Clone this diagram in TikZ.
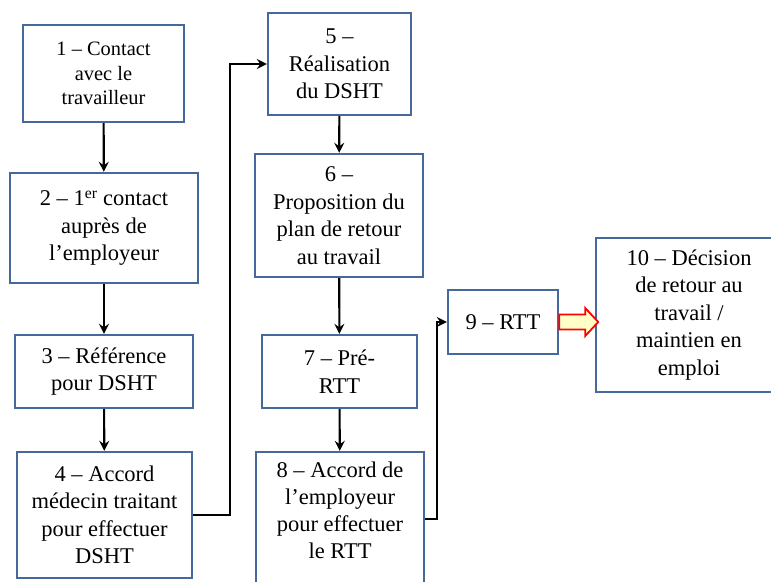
\documentclass[tikz,border=0pt]{standalone}
\usepackage{fontspec}
\setmainfont{Liberation Serif}
\usetikzlibrary{arrows.meta}
\definecolor{boxblue}{RGB}{70,105,155}
\definecolor{lightyel}{RGB}{255,255,200}
\tikzset{
  stepbox/.style={draw=boxblue, line width=2.4pt, fill=white, align=center, inner sep=0pt,
    font=\fontsize{22.5}{27.5}\selectfont},
  conn/.style={draw=black, line width=2.1pt, -{Stealth[length=10pt,width=10pt,inset=3.5pt]}},
  blockarrow/.style={draw=red, fill=lightyel, line width=1.8pt, line join=miter}
}
\begin{document}
\begin{tikzpicture}[x=1pt,y=-1pt]
\useasboundingbox (0,0) rectangle (771,581);
\clip (0,0) rectangle (771,581);
\fill[white] (0,0) rectangle (771,581);
\node[stepbox, minimum width=161pt, minimum height=97pt, font=\fontsize{20.4}{24.5}\selectfont] (n1) at (103.5,73.5) {1 – Contact\\avec le\\travailleur};
\node[stepbox, minimum width=188pt, minimum height=110pt] (n2) at (104,228) {2 – 1\textsuperscript{er} contact\\auprès de\\l’employeur};
\node[stepbox, minimum width=178pt, minimum height=73pt] (n3) at (104,371.5) {3 – Référence\\pour DSHT};
\node[stepbox, minimum width=175pt, minimum height=126pt] (n4) at (104.5,515) {4 – Accord\\médecin traitant\\pour effectuer\\DSHT};
\node[stepbox, minimum width=143pt, minimum height=102pt] (n5) at (339.5,64) {5 –\\Réalisation\\du DSHT};
\node[stepbox, minimum width=168pt, minimum height=123pt] (n6) at (339,215.5) {6 –\\Proposition du\\plan de retour\\au travail};
\node[stepbox, minimum width=155pt, minimum height=73pt] (n7) at (339.5,371.5) {7 – Pré-\\RTT};
\node[stepbox, minimum width=168pt, minimum height=134pt] (n8) at (340,519) {};
\node[align=center, inner sep=0pt, font=\fontsize{22.5}{27}\selectfont] (n8t) at ([yshift=9pt]n8.center) {8 – Accord de\\l’employeur\\pour effectuer\\le RTT};
\node[stepbox, minimum width=110pt, minimum height=64pt] (n9) at (503,322) {9 – RTT};
\node[stepbox, minimum width=186pt, minimum height=154pt] (n10) at (689,315) {10 – Décision\\de retour au\\travail /\\maintien en\\emploi};
\draw[conn] (n1) -- (n2);
\draw[conn] (n2) -- (n3);
\draw[conn] (n3) -- (n4);
\draw[conn] (n5) -- (n6);
\draw[conn] (n6) -- (n7);
\draw[conn] (n7) -- (n8);
\draw[conn] (n4.east) -- ++(37,0) |- (n5.west);
\draw[conn] (n8.east) -- ++(12,0) |- (n9.west);
\draw[blockarrow] (n9.east) ++(0,-7.5) -- ++(26,0) -- ++(0,-6.5) -- ++(13,14) -- ++(-13,14) -- ++(0,-6.5) -- ++(-26,0) -- cycle;
\end{tikzpicture}
\end{document}
